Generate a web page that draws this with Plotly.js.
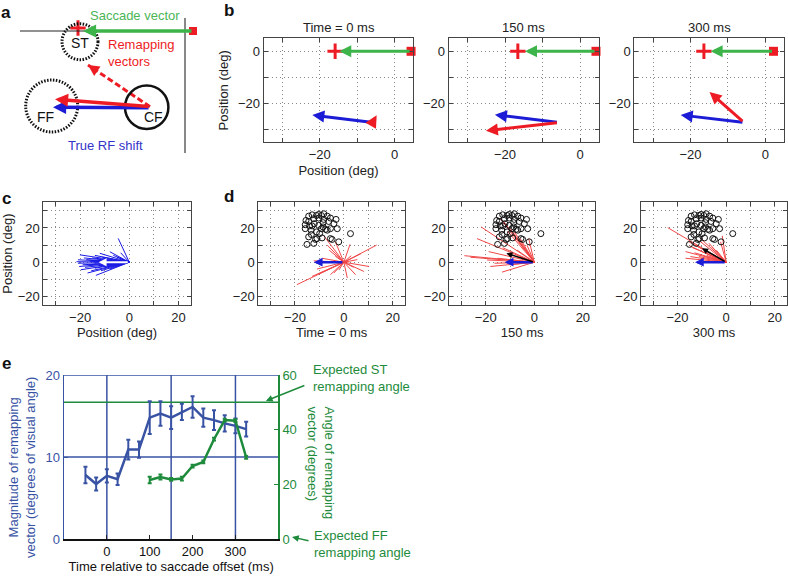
<!DOCTYPE html>
<html>
<head>
<meta charset="utf-8">
<script src="https://cdn.plot.ly/plotly-3.0.1.min.js"></script>
<style>body{margin:0;background:#fff}#fig{width:788px;height:576px}</style>
</head>
<body>
<div id="fig"></div>
<script>
// ---- panel a (schematic, in pixel-like units) ----
const aCircleX = [80, 51.7, 146.7];
const aCircleY = [41.7, 106, 107.3];
const aCircleR = [18, 26, 21.7];
const aLabels = ['ST', 'FF', 'CF'];
const aLabelX = [80, 45, 153];
const aLabelY = [43, 117, 117];
const aCF = [150, 106.7];           // start of the remapping vectors
const aRedTip = [55, 99.3];
const aRedDashTip = [88, 65];
const aBlueTip = [53, 107.3];
const aSaccStart = [193, 31];
const aSaccTip = [83, 31];
const aPlus = [78, 28];

// ---- panel b ----
const bTitles = ['Time = 0 ms', '150 ms', '300 ms'];
const bSquareX = [4.4, 4.2, 2.2];
const bGreenTipX = [-14.8, -14.7, -14.6];
const bPlusX = [-15.9, -16.6, -16.4];
const bStartX = [-5.9, -5.8, -5.7];
const bStartY = [-27.4, -27.4, -27.4];
const bBlueTipX = [-22.0, -22.7, -22.6];
const bBlueTipY = [-24.5, -24.4, -24.5];
const bRedTipX = [-4.8, -25.1, -14.9];
const bRedTipY = [-24.6, -30.6, -15.7];

// ---- panel c ----
const cEndX = [-4.5, -7.9, -12.0, -20.1, -20.9, -21.5, -20.9, -20.4, -19.7, -17.0, -13.6, -15.5, -18.0,
  -16.5, -14.0, -12.5, -11.5, -10.0, -9.0, -17.5, -15.0, -13.0, -11.0, -18.5, -16.0, -14.5, -12.0,
  -10.5, -6.5, -5.0, -3.5, -8.0, -19.0, -14.0];
const cEndY = [13.9, 6.1, 5.2, 4.3, 1.4, 0.3, -0.6, -2.5, -4.4, -6.3, -7.7, -5.0, -3.0,
  -1.5, -3.5, -2.0, -5.0, -3.0, -1.5, 1.5, 2.5, 1.2, 3.0, 2.5, 0.5, -0.5, -0.8,
  1.0, 4.0, 3.0, 5.5, -4.0, -1.5, 4.0];
const cMeanX = -12.5;

// ---- panel d ----
const dTitles = ['Time = 0 ms', '150 ms', '300 ms'];
const dCircX = [-14.4, -13.0, -11.2, -10.3, -9.2, -8.2, -6.8, -5.5, -3.2, -15.5, -14.4, -12.3, -10.3, -8.2,
  -6.2, -15.8, -14.0, -12.1, -10.3, -8.5, -7.5, -5.5, -2.7, -15.8, -13.4, -11.2, -9.2, -6.8, -13.3,
  -11.0, -11.6, -15.1, -12.3, -5.5, -4.8, -2.1, 2.7, -8.9, -9.9, -14.4, -8.5, -13.0, -4.1];
const dCircY = [26.9, 27.7, 27.3, 27.9, 27.3, 28.3, 26.9, 25.8, 25.0, 24.4, 23.8, 25.4, 25.8, 25.0,
  23.8, 21.9, 21.2, 22.5, 21.5, 20.6, 19.2, 19.6, 19.6, 19.6, 18.7, 17.7, 19.6, 18.7, 16.2,
  13.8, 13.3, 10.4, 11.0, 13.8, 13.3, 11.9, 16.7, 14.2, 16.7, 14.8, 23.1, 21.2, 22.5];
const dRedX0 = [-8.2, -6.8, -3.5, 2.5, 13.4, 7.0, 10.3, 8.2, 4.8, 1.4, -4.1, -5.5, -10.3, -13.0, -19.2,
  -11.0, -8.9, -12.3, -3.5, 3.0, 5.5, -6.0, 4.0, -2.0];
const dRedY0 = [15.4, 10.0, 12.0, 10.4, 10.0, 5.0, -2.5, -5.4, -7.3, -9.2, -6.3, -7.3, -6.9, -8.3, -13.1,
  -4.0, 2.3, 0.8, 3.5, 3.8, 1.5, 7.0, -3.0, -4.5];
const dRedX150 = [-21.9, -14.0, -12.6, -11.0, -9.9, -8.2, -5.8, -3.0, -28.8, -26.3, -19.5, -18.1, -13.3,
  -16.4, -15.1, -23.6, -18.8, -13.0, -7.1, -2.3, -10.0, -6.0];
const dRedY150 = [20.6, 25.4, 23.8, 18.0, 19.6, 17.7, 13.8, 10.0, 3.8, 2.9, 1.3, -2.5, -5.8,
  -0.6, 2.3, 13.8, 6.2, 8.5, 7.1, 13.8, -1.5, 3.0];
const dRedX300 = [-24.0, -15.3, -12.6, -16.7, -16.7, -14.7, -11.2, -13.8, -1.6, -2.3, -7.1, -10.5, -9.0,
  -6.0, -13.0, -4.0, -15.0, -11.0, -8.0];
const dRedY300 = [20.2, 11.9, 10.0, 6.2, 2.3, 3.3, 3.3, 8.5, 15.4, 11.9, 11.1, 13.8, 6.0,
  9.0, 5.5, 7.0, 9.5, 12.5, 4.0];
const dBlueTipX = [-12.3, -12.2, -12.8];
const dBlackTipX = [0.8, -11.5, -9.9];
const dBlackTipY = [-0.2, 5.2, 8.1];

// ---- panel e ----
const eTime = [-50, -25, 0, 25, 50, 75, 100, 125, 150, 175, 200, 225, 250, 275, 300, 325];
const eMag = [7.8, 6.7, 7.7, 7.3, 10.9, 10.9, 14.8, 15.3, 14.8, 15.5, 16.1, 14.8, 14.5, 14.1, 13.8, 13.4];
const eMagErr = [1.0, 0.8, 0.8, 0.7, 1.2, 1.0, 2.0, 1.5, 1.4, 1.0, 1.3, 1.1, 1.2, 1.0, 0.9, 0.9];
const eAngTime = [100, 125, 150, 175, 200, 225, 250, 275, 300, 325];
const eAng = [21.6, 22.7, 21.8, 22.1, 26.7, 28.2, 36.5, 43.5, 43.3, 29.9];
const eAngErr = [1.2, 0.9, 0.5, 0.7, 0.5, 0.5, 0.5, 0.5, 0.5, 0.5];
const eGridX = [0, 150, 300];
const eMagLine = 10;
const eExpectedST = 50;

// kolory
const RED = '#ed1c24', GREEN = '#3cb44a', BLUE = '#1c1cd6';
const EBLUE = '#3953a4', EGREEN = '#1e8b3c';
const FONT = 'Liberation Sans, Arial, sans-serif';

// pozycje w pikselach -> papier
const W = 788, H = 576;
const px = v => v / W;
const py = v => 1 - v / H;

// ramka z kropkowana siatka (jak w matlabie)
const frameAxis = (left, right, range, vals, text, anchor) => ({
  domain: [px(left), px(right)], range, tickvals: vals, ticktext: text, anchor,
  ticks: 'inside', ticklen: 4, tickcolor: '#444', showline: true, mirror: 'ticks',
  linecolor: '#444', linewidth: 1, showgrid: true, gridcolor: '#888', griddash: '1px,3px',
  gridwidth: 1, zeroline: false, tickfont: {size: 13, color: '#222'}, automargin: false
});
const frameY = (top, bottom, range, vals, text, anchor) => {
  const ax = frameAxis(0, 1, range, vals, text, anchor);
  ax.domain = [py(bottom), py(top)];
  return ax;
};

// strzalka w jednostkach danych
const arrow = (xr, yr, x0, y0, x1, y1, color, width, size) => ({
  xref: xr, yref: yr, axref: xr, ayref: yr, x: x1, y: y1, ax: x0, ay: y0,
  text: '', showarrow: true, arrowhead: 2, arrowsize: size, arrowwidth: width,
  arrowcolor: color, standoff: 0, startstandoff: 0
});

// tekst w pikselach strony
const label = (x, y, text, size, color, extra) => Object.assign({
  xref: 'paper', yref: 'paper', x: px(x), y: py(y), xanchor: 'center', yanchor: 'middle',
  text, showarrow: false, font: {size, color}
}, extra || {});

// linie z poczatku ukladu
const spokes = (xs, ys) => {
  const x = [], y = [];
  xs.forEach((v, i) => { x.push(0, v, null); y.push(0, ys[i], null); });
  return {x, y};
};

const data = [];
const annotations = [];
const shapes = [];
const layout = {
  width: W, height: H, margin: {l: 0, r: 0, t: 0, b: 0},
  paper_bgcolor: '#fff', plot_bgcolor: '#fff', showlegend: false,
  font: {family: FONT, size: 13, color: '#222'}
};

// ---------- panel a ----------
layout.xaxis10 = {domain: [0, px(200)], range: [0, 200], visible: false, anchor: 'y10'};
layout.yaxis10 = {domain: [py(160), 1], range: [160, 0], visible: false, anchor: 'x10'};
aCircleX.forEach((cx, i) => {
  shapes.push({type: 'circle', xref: 'x10', yref: 'y10',
    x0: cx - aCircleR[i], x1: cx + aCircleR[i], y0: aCircleY[i] - aCircleR[i], y1: aCircleY[i] + aCircleR[i],
    line: {color: '#111', width: i === 2 ? 2.5 : 3, dash: i === 2 ? 'solid' : '1.5px,1.5px'}});
  annotations.push({xref: 'x10', yref: 'y10', x: aLabelX[i], y: aLabelY[i], text: aLabels[i],
    xanchor: 'center', yanchor: 'middle', showarrow: false, font: {size: 14, color: '#111'}});
});
shapes.push({type: 'line', xref: 'x10', yref: 'y10', x0: 20, x1: 185, y0: 31, y1: 31, line: {color: '#222', width: 1}});
shapes.push({type: 'line', xref: 'x10', yref: 'y10', x0: 185, x1: 185, y0: 18, y1: 153, line: {color: '#888', width: 2}});
annotations.push(arrow('x10', 'y10', aSaccStart[0], aSaccStart[1], aSaccTip[0], aSaccTip[1], GREEN, 3.5, 0.75));
data.push({type: 'scatter', xaxis: 'x10', yaxis: 'y10', x: [aSaccStart[0]], y: [aSaccStart[1]], mode: 'markers',
  marker: {symbol: 'square', size: 8, color: RED}, hoverinfo: 'skip'});
data.push({type: 'scatter', xaxis: 'x10', yaxis: 'y10', x: [aPlus[0]], y: [aPlus[1]], mode: 'markers',
  marker: {symbol: 'cross-thin-open', size: 11, color: RED, line: {color: RED, width: 3}}, hoverinfo: 'skip'});
data.push({type: 'scatter', xaxis: 'x10', yaxis: 'y10', x: [aCF[0], aRedDashTip[0]], y: [aCF[1], aRedDashTip[1]],
  mode: 'lines', line: {color: RED, width: 3, dash: '6px,3px'}, hoverinfo: 'skip'});
{
  const k = 0.12;
  const tx = aRedDashTip[0] + k * (aCF[0] - aRedDashTip[0]);
  const ty = aRedDashTip[1] + k * (aCF[1] - aRedDashTip[1]);
  annotations.push(arrow('x10', 'y10', tx, ty, aRedDashTip[0], aRedDashTip[1], RED, 3, 0.75));
}
annotations.push(arrow('x10', 'y10', aCF[0], aCF[1] + 1, aBlueTip[0], aBlueTip[1], BLUE, 3.5, 0.75));
annotations.push(arrow('x10', 'y10', aCF[0], aCF[1], aRedTip[0], aRedTip[1], RED, 3.5, 0.75));
annotations.push({xref: 'x10', yref: 'y10', x: 135, y: 15, xanchor: 'center', yanchor: 'middle',
  text: 'Saccade vector', showarrow: false, font: {size: 13, color: '#4cb556'}});
annotations.push({xref: 'x10', yref: 'y10', x: 106, y: 53, xanchor: 'left', yanchor: 'middle', align: 'left',
  text: 'Remapping<br>vectors', showarrow: false, font: {size: 13, color: RED}});
annotations.push({xref: 'x10', yref: 'y10', x: 105, y: 145, xanchor: 'center', yanchor: 'middle',
  text: 'True RF shift', showarrow: false, font: {size: 13, color: '#3434c8'}});

// ---------- panel b ----------
const bBoxes = [[263.7, 413.3], [448.7, 599], [634.3, 784]];
bBoxes.forEach((b, i) => {
  const n = i + 1;
  const xs = n === 1 ? '' : String(n);
  layout['xaxis' + xs] = frameAxis(b[0], b[1], [-35, 5], [-30, -20, -10, 0], ['', '−20', '', '0'], 'y' + xs);
  layout['yaxis' + xs] = frameY(38.3, 142.3, [-35, 5], [-30, -20, -10, 0], ['', '−20', '', '0'], 'x' + xs);
  annotations.push(label((b[0] + b[1]) / 2, 27, bTitles[i], 13, '#222'));
  const xr = 'x' + xs, yr = 'y' + xs;
  annotations.push(arrow(xr, yr, bSquareX[i], 0, bGreenTipX[i], 0, GREEN, 3, 0.8));
  annotations.push(arrow(xr, yr, bStartX[i], bStartY[i], bBlueTipX[i], bBlueTipY[i], BLUE, 3, 0.8));
  annotations.push(arrow(xr, yr, bStartX[i], bStartY[i], bRedTipX[i], bRedTipY[i], RED, 3, 0.8));
  data.push({type: 'scatter', xaxis: xr, yaxis: yr, x: [bSquareX[i]], y: [0], mode: 'markers',
    marker: {symbol: 'square', size: 9, color: RED}, cliponaxis: false, hoverinfo: 'skip'});
  data.push({type: 'scatter', xaxis: xr, yaxis: yr, x: [bPlusX[i]], y: [0], mode: 'markers',
    marker: {symbol: 'cross-thin-open', size: 11, color: RED, line: {color: RED, width: 3}}, hoverinfo: 'skip'});
});
layout.xaxis.title = {text: 'Position (deg)', standoff: 4, font: {size: 13}};
layout.yaxis.title = {text: 'Position (deg)', standoff: 6, font: {size: 13}};

// ---------- panel c ----------
const gxVals = [-30, -20, -10, 0, 10, 20], gxText = ['', '−20', '', '0', '', '20'];
const gyVals = [-20, -10, 0, 10, 20, 30], gyText = ['−20', '', '0', '', '20', ''];
layout.xaxis4 = frameAxis(43.3, 190.7, [-35, 25], gxVals, gxText, 'y4');
layout.yaxis4 = frameY(202.3, 305, [-25, 35], gyVals, gyText, 'x4');
layout.xaxis4.title = {text: 'Position (deg)', standoff: 4, font: {size: 13}};
layout.yaxis4.title = {text: 'Position (deg)', standoff: 6, font: {size: 13}};
{
  const s = spokes(cEndX, cEndY);
  data.push({type: 'scatter', xaxis: 'x4', yaxis: 'y4', x: s.x, y: s.y, mode: 'lines',
    line: {color: '#1a1ae6', width: 1}, hoverinfo: 'skip'});
  annotations.push(arrow('x4', 'y4', 0, 0, cMeanX, 0, '#fff', 2, 0.8));
}

// ---------- panel d ----------
const dBoxes = [[258.3, 405], [449.3, 595], [641, 787]];
const dRedX = [dRedX0, dRedX150, dRedX300];
const dRedY = [dRedY0, dRedY150, dRedY300];
dBoxes.forEach((b, i) => {
  const n = 5 + i;
  const xr = 'x' + n, yr = 'y' + n;
  layout['xaxis' + n] = frameAxis(b[0], b[1], [-35, 25], gxVals, gxText, yr);
  layout['yaxis' + n] = frameY(202.3, 305, [-25, 35], gyVals, gyText, xr);
  layout['xaxis' + n].title = {text: dTitles[i], standoff: 4, font: {size: 13}};
  const s = spokes(dRedX[i], dRedY[i]);
  data.push({type: 'scatter', xaxis: xr, yaxis: yr, x: s.x, y: s.y, mode: 'lines',
    line: {color: '#f02828', width: 1}, opacity: 0.85, hoverinfo: 'skip'});
  data.push({type: 'scatter', xaxis: xr, yaxis: yr, x: dCircX, y: dCircY, mode: 'markers',
    marker: {symbol: 'circle-open', size: 6, color: '#111', line: {color: '#111', width: 1}}, hoverinfo: 'skip'});
  annotations.push(arrow(xr, yr, 0, 0, dBlueTipX[i], 0, BLUE, 2.5, 0.7));
  annotations.push(arrow(xr, yr, 0, 0, dBlackTipX[i], dBlackTipY[i], '#000', 1.5, 0.8));
});

// ---------- panel e ----------
layout.xaxis8 = {domain: [px(64), px(278.3)], range: [-100, 400], anchor: 'y8',
  tickvals: [0, 100, 200, 300], ticks: 'inside', ticklen: 4, tickcolor: '#222',
  showline: true, linecolor: '#111', linewidth: 1.5, showgrid: false, zeroline: false,
  tickfont: {size: 13, color: '#111'},
  title: {text: 'Time relative to saccade offset (ms)', standoff: 3, font: {size: 13, color: '#111'}}};
layout.yaxis8 = {domain: [py(539), py(375)], range: [0, 20], anchor: 'x8',
  tickvals: [0, 10, 20], ticks: 'inside', ticklen: 4, tickcolor: EBLUE,
  showline: true, linecolor: EBLUE, linewidth: 1.5, showgrid: false, zeroline: false,
  tickfont: {size: 13, color: EBLUE}};
layout.yaxis9 = {overlaying: 'y8', side: 'right', anchor: 'x8', range: [0, 60],
  tickvals: [0, 20, 40, 60], ticks: 'inside', ticklen: 4, tickcolor: EGREEN,
  showline: true, linecolor: EGREEN, linewidth: 1.5, showgrid: false, zeroline: false,
  tickfont: {size: 13, color: EGREEN}};
eGridX.forEach(g => shapes.push({type: 'line', xref: 'x8', yref: 'y8', x0: g, x1: g, y0: 0, y1: 20,
  line: {color: EBLUE, width: 1.5}, layer: 'below'}));
shapes.push({type: 'line', xref: 'x8', yref: 'y8', x0: -100, x1: 400, y0: eMagLine, y1: eMagLine, line: {color: EBLUE, width: 1.5}, layer: 'below'});
shapes.push({type: 'line', xref: 'x8', yref: 'y8', x0: -100, x1: 400, y0: 20, y1: 20, line: {color: EBLUE, width: 1.5}});
shapes.push({type: 'line', xref: 'x8', yref: 'y9', x0: -100, x1: 400, y0: eExpectedST, y1: eExpectedST, line: {color: EGREEN, width: 1.5}, layer: 'below'});
data.push({type: 'scatter', xaxis: 'x8', yaxis: 'y8', x: eTime, y: eMag, mode: 'lines',
  line: {color: EBLUE, width: 2.5},
  error_y: {type: 'data', array: eMagErr, color: EBLUE, thickness: 2, width: 2}, hoverinfo: 'skip'});
data.push({type: 'scatter', xaxis: 'x8', yaxis: 'y9', x: eAngTime, y: eAng, mode: 'lines',
  line: {color: EGREEN, width: 2.5},
  error_y: {type: 'data', array: eAngErr, color: EGREEN, thickness: 2, width: 2}, hoverinfo: 'skip'});
annotations.push(label(22, 468, 'Magnitude of remapping<br>vector (degrees of visual angle)', 13, EBLUE, {textangle: -90}));
annotations.push(label(321, 404, 'Angle of remapping<br>vector (degrees)', 13, EGREEN,
  {yanchor: 'top', textangle: 90, align: 'left'}));
annotations.push(label(311, 360, 'Expected ST<br>remapping angle', 13, EGREEN, {xanchor: 'left', yanchor: 'top', align: 'left'}));
annotations.push(label(312, 526, 'Expected FF<br>remapping angle', 13, EGREEN, {xanchor: 'left', yanchor: 'top', align: 'left'}));
annotations.push({xref: 'x8', yref: 'y9', x: 371, y: eExpectedST + 0.5, ax: 40, ay: -16, text: '',
  showarrow: true, arrowhead: 2, arrowsize: 0.9, arrowwidth: 1.5, arrowcolor: EGREEN});
annotations.push({xref: 'paper', yref: 'paper', x: px(292), y: py(537), ax: 18, ay: 4, text: '',
  showarrow: true, arrowhead: 2, arrowsize: 0.9, arrowwidth: 1.5, arrowcolor: EGREEN});

// litery paneli
[['a', 6, 12.5], ['b', 228.5, 10], ['c', 6, 198], ['d', 228.5, 197], ['e', 6, 363]].forEach(l =>
  annotations.push(label(l[1], l[2], '<b>' + l[0] + '</b>', 17, '#111')));

layout.annotations = annotations;
layout.shapes = shapes;
Plotly.newPlot('fig', data, layout, {staticPlot: true});
</script>
</body>
</html>
